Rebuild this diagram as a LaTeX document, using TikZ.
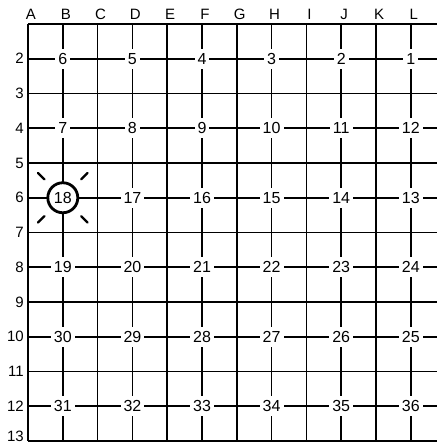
\documentclass[tikz,border=0pt]{standalone}
\usepackage{fontspec}
\setmainfont{Liberation Sans}

\begin{document}
\begin{tikzpicture}[x=1pt,y=-1pt,
  gridline/.style={line width=1.6pt},
  collabel/.style={inner sep=0pt,font=\fontsize{15}{17}\selectfont},
  rowlabel/.style={inner sep=0pt,anchor=east,font=\fontsize{15}{17}\selectfont},
  lotnum/.style={fill=white,inner xsep=3pt,inner ysep=4.5pt,font=\fontsize{16}{18}\selectfont},
  ray/.style={line width=2.4pt,line cap=round}]
\useasboundingbox (0,0) rectangle (437,443);

% Column letters and vertical lines
\foreach \c [count=\i from 0] in {A,B,C,D,E,F,G,H,I,J,K,L,M}
  \node[collabel] (col\c) at (31+34.8*\i,14) {\c};
\foreach \i in {0,...,11}
  \draw[gridline] (28+34.8*\i,24) -- (28+34.8*\i,441);

% Row numbers and horizontal lines
\foreach \r in {2,...,12}
  \node[rowlabel] (row\r) at (24,{24+34.75*(\r-1)}) {\r};
\node[rowlabel] (row13) at (24,436) {13};
\foreach \r in {1,...,12}
  \draw[gridline] (28,{24+34.75*(\r-1)}) -- (437,{24+34.75*(\r-1)});
\draw[line width=1.2pt] (28,441) -- (437,441);

% Lot numbers on the even rows
\foreach \r/\nums in {2/{6,5,4,3,2,1},4/{7,8,9,10,11,12},8/{19,20,21,22,23,24},
                      10/{30,29,28,27,26,25},12/{31,32,33,34,35,36}}
  \foreach \n [count=\k from 0] in \nums
    \node[lotnum] (n\n) at ({62.8+69.6*\k},{24+34.75*(\r-1)}) {\n};
\foreach \n [count=\k from 1] in {17,16,15,14,13}
  \node[lotnum] (n\n) at ({62.8+69.6*\k},197.75) {\n};

% Marked lot
\node[lotnum,draw,circle,line width=2.8pt,minimum size=30pt,inner sep=0pt] (n18) at (62.8,197.75) {18};
\foreach \a in {45,135,225,315}
  \draw[ray] (n18.center) ++(\a:26) -- ++(\a:9);
\end{tikzpicture}
\end{document}
